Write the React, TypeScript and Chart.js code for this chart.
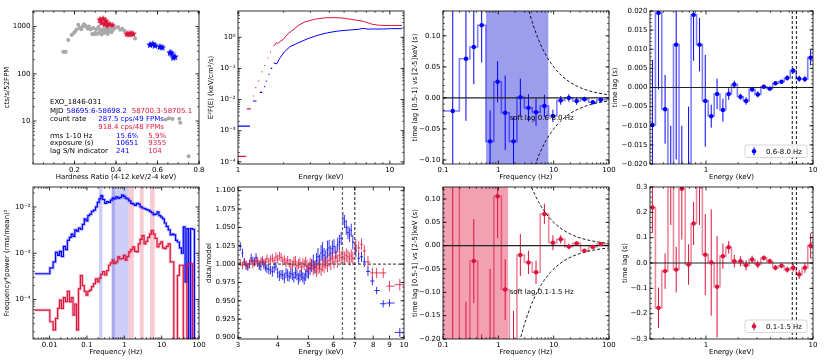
import React, { useEffect, useRef } from "react";
import { Chart, registerables } from "chart.js";

Chart.register(...registerables);

const FONT = "'DejaVu Sans', 'Liberation Sans', sans-serif";
Chart.defaults.font.family = FONT;
Chart.defaults.font.size = 7;
Chart.defaults.color = "#000";

const BLUE = "#0000ff";
const RED = "#dc143c";
const GRAY = "#a9a9a9";
const BLUE_STEP = "rgba(0,0,255,0.5)";
const RED_STEP = "rgba(220,20,60,0.5)";

// ---------------- Panel 1: hardness-intensity ----------------
const hrGrayX = [0.146,0.152,0.158,0.170,0.186,0.195,0.202,0.210,0.218,0.225,0.232,0.240,0.245,0.252,0.260,0.265,0.270,0.278,0.285,0.290,0.295,0.300,0.305,0.310,0.315,0.320,0.325,0.330,0.335,0.340,0.345,0.350,0.355,0.360,0.365,0.370,0.378,0.385,0.395,0.410,0.420,0.430,0.440,0.492,0.640,0.655,0.672,0.705,0.710,0.750];
const hrGrayY = [295,290,292,520,665,720,780,870,1090,950,880,1000,1120,1060,960,900,1010,870,700,930,690,740,880,700,980,760,870,680,820,720,900,760,840,700,800,920,760,850,930,980,860,900,820,560,10.8,11.5,11,11.2,9.2,1.8];
const hrRedX = [0.323,0.330,0.338,0.346,0.351,0.357,0.362,0.370,0.383,0.452,0.462,0.472,0.482];
const hrRedY = [1400,1200,1450,1120,1300,1150,1000,1100,1050,700,690,710,695];
const hrBlueX = [0.564,0.577,0.588,0.612,0.623,0.660,0.668,0.676,0.684];
const hrBlueY = [410,425,395,370,360,280,270,220,228];

const srcName = "EXO_1846-031";
const mjdBlue = "58695.6-58698.2";
const mjdRed = "58700.3-58705.1";
const rateBlue = "287.5 cps/49 FPMs";
const rateRed = "918.4 cps/48 FPMs";
const rmsBlue = "15.6%";
const rmsRed = "5.9%";
const expBlue = "10651";
const expRed = "9355";
const snBlue = "241";
const snRed = "104";

// ---------------- Panel 2: unfolded spectra ----------------
const specBlueLowE = [1.10, 1.29, 1.42, 1.50, 1.535, 1.60, 1.66];
const specBlueLowF = [1.4e-3, 9e-3, 0.017, 0.026, 0.039, 0.065, 0.10];
const specBlueLowW = [0.10, 0.035, 0.025, 0.012, 0.012, 0.015, 0.02];
const specBlueE = [1.72, 1.80, 1.88, 2.02, 2.2, 2.49, 2.89, 3.37, 3.9, 4.55, 5.3, 6.2, 6.5, 6.8, 7.2, 7.6, 9.0, 10.3, 12.0];
const specBlueF = [0.15, 0.14, 0.21, 0.34, 0.5, 0.66, 0.91, 1.17, 1.4, 1.59, 1.7, 1.8, 1.9, 1.92, 1.82, 1.85, 1.85, 1.9, 1.9];
const specRedLowE = [1.065, 1.18, 1.26, 1.31, 1.37, 1.44, 1.50, 1.58, 1.64];
const specRedLowF = [1.5e-4, 5e-3, 0.013, 0.024, 0.039, 0.077, 0.124, 0.22, 0.34];
const specRedLowW = [0.065, 0.037, 0.01, 0.01, 0.01, 0.01, 0.01, 0.01, 0.01];
const specRedE = [1.72, 1.79, 1.84, 1.9, 1.98, 2.14, 2.37, 2.49, 2.75, 3.2, 3.7, 4.35, 5.0, 5.9, 6.8, 7.6, 8.4, 9.3, 10.3, 12.0];
const specRedF = [0.52, 0.68, 0.63, 0.75, 0.85, 1.32, 1.92, 2.4, 3.1, 3.8, 4.2, 4.3, 4.1, 3.6, 3.2, 2.65, 2.45, 2.4, 2.4, 2.4];

// ---------------- Panels 3 & 7: lag-frequency ----------------
const lagFreq = [0.15,0.26,0.36,0.50,0.71,0.97,1.33,1.88,2.5,3.5,4.8,6.8,9.7,13.4,18.8,26,36,51,71];
const lagBlue = [-0.021,0.063,0.082,0.117,-0.070,0.026,-0.024,-0.070,0.001,-0.016,-0.023,-0.013,-0.029,-0.004,0.000,-0.005,-0.002,-0.007,-0.003];
const lagBlueErr = [0.25,0.10,0.06,0.06,0.05,0.033,0.06,0.04,0.03,0.022,0.022,0.018,0.010,0.007,0.006,0.006,0.004,0.003,0.003];
const lagRed = [0.25,-0.30,-0.033,-0.30,-0.25,0.106,-0.094,-0.30,-0.020,-0.036,-0.057,0.068,0.0064,0.0136,-0.002,0.005,-0.011,-0.003,0.0036];
const lagRedErr = [0.50,0.18,0.09,0.11,0.20,0.09,0.065,0.16,0.045,0.025,0.025,0.022,0.016,0.009,0.006,0.004,0.004,0.004,0.003];
const lagLimit = 0.5; // +/- limit curve coefficient (s*Hz)
const softBandBlue = [0.6, 8.0];
const softBandRed = [0.1, 1.5];

// ---------------- Panels 4 & 8: lag-energy ----------------
const lagEn = [0.316,0.360,0.415,0.469,0.527,0.595,0.688,0.766,0.871,0.985,1.12,1.27,1.44,1.63,1.84,2.10,2.37,2.70,3.05,3.47,3.95,4.46,5.08,5.74,6.53,7.43,8.40,9.50];
const enLagBlue = [-0.0098,0.0195,-0.0057,-0.030,0.0112,-0.030,-0.025,0.0190,0.0112,-0.0035,-0.0075,-0.0017,-0.0059,-0.0017,0.0008,-0.0024,-0.0035,-0.0005,-0.0018,0.0002,-0.0003,0.0011,0.0015,0.0025,0.0044,0.0023,0.0022,0.0078];
const enLagBlueErr = [0.017,0.020,0.009,0.020,0.030,0.020,0.020,0.012,0.007,0.012,0.003,0.004,0.003,0.0015,0.001,0.0008,0.001,0.0007,0.0008,0.0005,0.0005,0.0005,0.0005,0.0007,0.0007,0.0008,0.0008,0.002];
const enLagRed = [0.219,-0.177,-0.032,0.35,-0.026,0.293,-0.006,0.156,0.35,0.033,0.002,-0.094,0.027,0.062,0.007,0.007,-0.009,0.014,-0.006,0.020,0.007,-0.019,-0.011,-0.026,-0.019,-0.045,-0.019,0.068];
const enLagRedErr = [0.10,0.08,0.07,0.20,0.09,0.20,0.08,0.085,0.20,0.16,0.21,0.20,0.05,0.025,0.025,0.02,0.02,0.015,0.015,0.01,0.01,0.01,0.01,0.012,0.015,0.018,0.02,0.05];
const lineEnergies = [6.4, 7.0];

// ---------------- Panel 5: power spectra ----------------
const psdFreq = [0.0055,0.009,0.0115,0.0135,0.0155,0.0175,0.0195,0.022,0.025,0.028,0.032,0.036,0.040,0.045,0.050,0.056,0.063,0.071,0.080,0.090,0.10,0.112,0.125,0.14,0.16,0.18,0.20,0.224,0.25,0.28,0.32,0.36,0.40,0.45,0.50,0.56,0.63,0.71,0.80,0.90,1.0,1.12,1.25,1.4,1.6,1.8,2.0,2.24,2.5,2.8,3.2,3.6,4.0,4.5,5.0,5.6,6.3,7.1,8.0,9.0,10,11.2,12.5,14,16,18,20,22.4,25,28,32,36,40,45,50,56,63,71,80];
const psdBlue = [3.6e-4,3.6e-4,4.8e-4,6.5e-4,1.05e-3,9e-4,1.1e-3,8.5e-4,1.4e-3,1.2e-3,1.9e-3,2.2e-3,2.6e-3,2.3e-3,3.2e-3,3.0e-3,3.5e-3,3.3e-3,4.2e-3,5.5e-3,5.0e-3,6.5e-3,7.0e-3,8.0e-3,8.5e-3,1.0e-2,1.25e-2,1.5e-2,1.75e-2,1.45e-2,1.2e-2,1.3e-2,1.25e-2,1.4e-2,1.55e-2,1.5e-2,1.65e-2,1.55e-2,1.6e-2,1.8e-2,1.7e-2,1.55e-2,1.5e-2,1.35e-2,1.2e-2,1.15e-2,1.08e-2,1.2e-2,1.15e-2,1.0e-2,9.5e-3,9.2e-3,8.8e-3,8.5e-3,8.0e-3,7.5e-3,6.8e-3,7.0e-3,7.8e-3,6.5e-3,6.0e-3,5.5e-3,4.5e-3,3.8e-3,3.2e-3,2.5e-3,2.6e-3,2.5e-3,1.9e-3,1.75e-3,1.3e-3,1.0e-3,3.7e-3,2.4e-4,3.4e-3,1e-5,3.4e-3,3.3e-3,1e-5];
const psdRed = [5.9e-5,5.9e-5,3.3e-5,2.2e-5,3.9e-5,6.4e-5,9.7e-5,6.4e-5,1.1e-4,9e-5,1.5e-4,8.9e-5,1.1e-4,4.6e-5,8e-5,2.2e-5,1.7e-4,3.3e-4,2.0e-4,1.5e-4,1.24e-4,1.5e-4,1.6e-4,1.9e-4,2.2e-4,2.8e-4,2.4e-4,2.9e-4,3.5e-4,4.0e-4,3.4e-4,4.2e-4,5.5e-4,6.2e-4,7.1e-4,6.0e-4,6.5e-4,8.3e-4,7.5e-4,7.7e-4,9.0e-4,7.1e-4,8.5e-4,1.07e-3,1.2e-3,1.37e-3,1.1e-3,1.07e-3,1.6e-3,2.0e-3,2.4e-3,1.6e-3,1.8e-3,2.2e-3,2.6e-3,3.1e-3,2.6e-3,2.1e-3,1.37e-3,1.6e-3,1.76e-3,1.3e-3,1.26e-3,1.4e-3,1.6e-3,6.5e-4,6.5e-4,1e-5,1e-5,3.3e-4,5.5e-4,5.5e-4,1e-5,1e-5,5.5e-4,6.0e-4,6.0e-4,1e-5,1e-5];
const psdBandsBlue = [[0.21, 0.26], [0.46, 1.3], [0.46, 0.56]];
const psdBandsRed = [[1.3, 1.8], [2.6, 3.3], [4.9, 6.5]];

// ---------------- Panel 6: data/model ratio ----------------
const ratioE = [3.05,3.10,3.14,3.18,3.22,3.26,3.30,3.34,3.38,3.42,3.46,3.50,3.54,3.58,3.62,3.66,3.70,3.75,3.80,3.85,3.90,3.95,4.00,4.05,4.10,4.15,4.20,4.25,4.30,4.35,4.40,4.45,4.50,4.55,4.60,4.65,4.70,4.75,4.80,4.85,4.90,4.95,5.00,5.06,5.12,5.18,5.24,5.30,5.36,5.42,5.48,5.54,5.60,5.67,5.74,5.81,5.88,5.95,6.02,6.10,6.18,6.26,6.34,6.42,6.50,6.58,6.66,6.74,6.82,6.90,7.05,7.20,7.35,7.50,7.70,7.95,8.20,8.60,9.00,9.70];
const ratioBlue = [1.024,1.015,1.003,0.998,0.996,1.000,1.008,1.005,1.003,1.009,1.001,0.998,0.997,1.003,0.999,0.996,0.994,0.993,0.992,0.990,0.995,0.997,0.988,0.984,0.986,0.985,0.981,0.988,0.985,0.983,0.987,0.986,0.982,0.988,0.985,0.980,0.984,0.986,0.982,0.980,0.985,0.990,0.988,0.994,0.998,1.003,0.996,1.005,1.010,1.003,1.015,1.018,1.012,1.008,1.020,1.022,1.015,1.021,1.024,1.016,1.026,1.030,1.035,1.062,1.058,1.050,1.043,1.040,1.046,1.030,1.018,1.008,1.010,1.003,0.990,0.977,0.964,0.946,0.947,0.907];
const ratioBlueErr = [0.006,0.006,0.005,0.006,0.005,0.006,0.006,0.005,0.006,0.006,0.005,0.006,0.006,0.005,0.006,0.006,0.006,0.007,0.006,0.007,0.007,0.006,0.007,0.007,0.006,0.007,0.007,0.007,0.008,0.007,0.007,0.008,0.007,0.008,0.007,0.008,0.008,0.008,0.007,0.008,0.008,0.009,0.008,0.009,0.009,0.010,0.009,0.010,0.012,0.010,0.011,0.012,0.010,0.011,0.012,0.011,0.010,0.011,0.010,0.009,0.010,0.010,0.009,0.009,0.009,0.010,0.009,0.010,0.009,0.010,0.008,0.008,0.007,0.007,0.006,0.006,0.005,0.005,0.005,0.006];
const ratioRed = [1.002,0.998,1.003,1.000,0.997,1.001,1.004,0.999,1.002,1.003,1.005,1.000,1.004,1.006,1.002,1.003,1.007,1.004,1.006,1.008,1.005,1.010,1.007,1.011,1.009,1.004,1.006,1.002,1.005,1.001,1.000,0.999,1.003,1.004,0.998,1.000,1.002,0.996,1.001,0.999,1.003,0.998,0.995,1.000,0.999,0.993,0.996,0.991,0.994,0.997,0.993,0.999,0.997,1.002,0.998,1.005,1.001,1.008,1.003,1.010,1.004,1.012,1.009,1.010,1.008,1.012,1.010,1.007,1.011,1.008,1.025,1.022,1.027,1.018,1.003,0.988,0.988,0.988,0.970,0.972];
const ratioRedErr = [0.005,0.005,0.005,0.005,0.005,0.005,0.005,0.005,0.005,0.005,0.005,0.005,0.005,0.005,0.005,0.005,0.006,0.005,0.006,0.006,0.005,0.006,0.006,0.006,0.006,0.006,0.006,0.006,0.006,0.006,0.007,0.006,0.007,0.007,0.006,0.007,0.007,0.007,0.007,0.007,0.007,0.008,0.007,0.008,0.008,0.008,0.008,0.009,0.008,0.009,0.009,0.009,0.009,0.009,0.009,0.009,0.009,0.009,0.009,0.009,0.009,0.009,0.009,0.009,0.009,0.009,0.009,0.009,0.009,0.009,0.009,0.009,0.008,0.008,0.008,0.007,0.007,0.007,0.007,0.008];

// ---------------- helpers ----------------
function logMinor(min: number, max: number): number[] {
  const out: number[] = [];
  for (let e = Math.floor(Math.log10(min)); e <= Math.ceil(Math.log10(max)); e++) {
    for (let m = 2; m <= 9; m++) {
      const v = m * Math.pow(10, e);
      if (v > min && v < max) out.push(v);
    }
  }
  return out;
}
function linMinor(min: number, max: number, step: number): number[] {
  const out: number[] = [];
  for (let k = Math.ceil(min / step - 1e-9); k * step <= max + 1e-9; k++) out.push(k * step);
  return out;
}
function pts(xs: number[], ys: number[]) {
  return xs.map((x, i) => ({ x, y: ys[i] }));
}
function starImage(color: string, size: number) {
  const c = document.createElement("canvas");
  c.width = size; c.height = size;
  const g = c.getContext("2d")!;
  g.fillStyle = color;
  g.beginPath();
  for (let i = 0; i < 10; i++) {
    const r = i % 2 === 0 ? size / 2 : size / 4.6;
    const a = -Math.PI / 2 + (i * Math.PI) / 5;
    g.lineTo(size / 2 + r * Math.cos(a), size / 2 + r * Math.sin(a));
  }
  g.closePath();
  g.fill();
  return c;
}

type AxisSpec = { type: string; min: number; max: number; ticks: number[]; labels: string[]; minor: number[]; title: string };
type Extra = {
  bands?: { from: number; to: number; color: string }[];
  curves?: { k: number; color: string }[];
  hlines?: { v: number; color: string; dash?: number[]; width?: number }[];
  vlines?: { v: number; color: string; dash?: number[]; width?: number }[];
  steps?: { xs: number[]; ys: number[]; lo?: number; hi?: number; color: string; width: number }[];
  errs?: { xs: number[]; ys: number[]; yerr?: number[]; xw?: number[]; autoX?: boolean; color: string; width: number }[];
  texts?: { dx?: number; dy?: number; x?: number; y?: number; text: string; color: string }[];
  legend?: { text: string; color: string };
};

const PAD_T = 6;
const PAD_R = 10;
const AXIS_B = 17;

function axisOptions(a: AxisSpec, horizontal: boolean, size: number) {
  return {
    type: a.type,
    min: a.min,
    max: a.max,
    bounds: "data",
    position: horizontal ? "bottom" : "left",
    grid: { display: false, drawTicks: false },
    border: { display: false },
    ticks: {
      autoSkip: false,
      maxRotation: 0,
      minRotation: 0,
      padding: horizontal ? 2 : 2.5,
      color: "#000",
      font: { family: FONT, size: 7 },
      callback: (_v: any, i: number) => a.labels[i],
    },
    title: { display: true, text: a.title, color: "#000", font: { family: FONT, size: 7 }, padding: 0 },
    afterBuildTicks: (s: any) => {
      s.ticks = a.ticks.map((v) => ({ value: v }));
    },
    afterFit: (s: any) => {
      if (horizontal) s.height = size;
      else s.width = size;
      s.paddingLeft = 0;
      s.paddingRight = 0;
      s.paddingTop = 0;
      s.paddingBottom = 0;
    },
  };
}

function pixEdges(px: number[], lo?: number, hi?: number): number[] {
  const n = px.length;
  const e: number[] = [];
  e[0] = lo !== undefined ? lo : px[0] - (n > 1 ? (px[1] - px[0]) / 2 : 3);
  for (let i = 1; i < n; i++) e[i] = (px[i - 1] + px[i]) / 2;
  e[n] = hi !== undefined ? hi : px[n - 1] + (n > 1 ? (px[n - 1] - px[n - 2]) / 2 : 3);
  return e;
}

function makeExtras(ex: Extra, xa: AxisSpec, ya: AxisSpec) {
  return {
    id: "extras",
    beforeDatasetsDraw(chart: any) {
      const { ctx, chartArea: a } = chart;
      const sx = chart.scales.x;
      const sy = chart.scales.y;
      ctx.save();
      ctx.beginPath();
      ctx.rect(a.left, a.top, a.right - a.left, a.bottom - a.top);
      ctx.clip();
      for (const b of ex.bands || []) {
        const x1 = sx.getPixelForValue(b.from);
        const x2 = sx.getPixelForValue(b.to);
        ctx.fillStyle = b.color;
        ctx.fillRect(x1, a.top, x2 - x1, a.bottom - a.top);
      }
      for (const st of ex.steps || []) {
        const px = st.xs.map((v) => sx.getPixelForValue(v));
        const py = st.ys.map((v) => sy.getPixelForValue(v));
        const e = pixEdges(px, st.lo !== undefined ? sx.getPixelForValue(st.lo) : undefined, st.hi !== undefined ? sx.getPixelForValue(st.hi) : undefined);
        ctx.strokeStyle = st.color;
        ctx.lineWidth = st.width;
        ctx.lineJoin = "miter";
        ctx.beginPath();
        ctx.moveTo(e[0], py[0]);
        for (let i = 0; i < px.length; i++) {
          ctx.lineTo(e[i + 1], py[i]);
          if (i < px.length - 1) ctx.lineTo(e[i + 1], py[i + 1]);
        }
        ctx.stroke();
      }
      for (const er of ex.errs || []) {
        const px = er.xs.map((v) => sx.getPixelForValue(v));
        const e = er.autoX ? pixEdges(px) : null;
        ctx.strokeStyle = er.color;
        ctx.lineWidth = er.width;
        ctx.beginPath();
        er.xs.forEach((xv, i) => {
          const yv = er.ys[i];
          const cy = sy.getPixelForValue(yv);
          if (er.yerr) {
            ctx.moveTo(px[i], sy.getPixelForValue(yv - er.yerr[i]));
            ctx.lineTo(px[i], sy.getPixelForValue(yv + er.yerr[i]));
          }
          if (er.xw) {
            ctx.moveTo(sx.getPixelForValue(xv - er.xw[i]), cy);
            ctx.lineTo(sx.getPixelForValue(xv + er.xw[i]), cy);
          } else if (e) {
            ctx.moveTo(e[i], cy);
            ctx.lineTo(e[i + 1], cy);
          }
        });
        ctx.stroke();
      }
      for (const h of ex.hlines || []) {
        const py = sy.getPixelForValue(h.v);
        ctx.strokeStyle = h.color;
        ctx.lineWidth = h.width || 1;
        ctx.setLineDash(h.dash || []);
        ctx.beginPath();
        ctx.moveTo(a.left, py);
        ctx.lineTo(a.right, py);
        ctx.stroke();
      }
      for (const v of ex.vlines || []) {
        const px = sx.getPixelForValue(v.v);
        ctx.strokeStyle = v.color;
        ctx.lineWidth = v.width || 1;
        ctx.setLineDash(v.dash || []);
        ctx.beginPath();
        ctx.moveTo(px, a.top);
        ctx.lineTo(px, a.bottom);
        ctx.stroke();
      }
      for (const c of ex.curves || []) {
        ctx.strokeStyle = c.color;
        ctx.lineWidth = 0.9;
        ctx.setLineDash([3, 2]);
        ctx.beginPath();
        let first = true;
        for (let p = a.left; p <= a.right; p += 1) {
          const f = sx.getValueForPixel(p);
          const py = Math.max(-5000, Math.min(5000, sy.getPixelForValue(c.k / f)));
          if (first) { ctx.moveTo(p, py); first = false; } else ctx.lineTo(p, py);
        }
        ctx.stroke();
      }
      ctx.setLineDash([]);
      ctx.restore();
    },
    afterDatasetsDraw(chart: any) {
      const { ctx, chartArea: a } = chart;
      const sx = chart.scales.x;
      const sy = chart.scales.y;
      ctx.save();
      ctx.font = `7px ${FONT}`;
      ctx.textBaseline = "middle";
      ctx.textAlign = "left";
      for (const t of ex.texts || []) {
        ctx.fillStyle = t.color;
        if (t.x !== undefined && t.y !== undefined) ctx.fillText(t.text, sx.getPixelForValue(t.x), sy.getPixelForValue(t.y));
        else ctx.fillText(t.text, a.left + (t.dx || 0), a.top + (t.dy || 0));
      }
      if (ex.legend) {
        const tw = ctx.measureText(ex.legend.text).width;
        const bw = tw + 26;
        const bh = 12.5;
        const bx = a.right - 6 - bw;
        const by = a.bottom - 6.5 - bh;
        ctx.fillStyle = "rgba(255,255,255,0.85)";
        ctx.strokeStyle = "#cccccc";
        ctx.lineWidth = 0.8;
        ctx.beginPath();
        (ctx as any).roundRect(bx, by, bw, bh, 2);
        ctx.fill();
        ctx.stroke();
        const mx = bx + 9;
        const my = by + bh / 2;
        ctx.strokeStyle = ex.legend.color;
        ctx.lineWidth = 1;
        ctx.beginPath();
        ctx.moveTo(mx, my - 4);
        ctx.lineTo(mx, my + 4);
        ctx.stroke();
        ctx.fillStyle = ex.legend.color;
        ctx.beginPath();
        ctx.arc(mx, my, 2.2, 0, Math.PI * 2);
        ctx.fill();
        ctx.fillStyle = "#000";
        ctx.fillText(ex.legend.text, bx + 21, my + 0.5);
      }
      // frame
      ctx.strokeStyle = "#000";
      ctx.lineWidth = 0.8;
      ctx.strokeRect(a.left, a.top, a.right - a.left, a.bottom - a.top);
      // inward ticks on all four sides
      const drawX = (vals: number[], len: number) => {
        for (const v of vals) {
          const p = sx.getPixelForValue(v);
          if (p < a.left - 0.5 || p > a.right + 0.5) continue;
          ctx.moveTo(p, a.bottom);
          ctx.lineTo(p, a.bottom - len);
          ctx.moveTo(p, a.top);
          ctx.lineTo(p, a.top + len);
        }
      };
      const drawY = (vals: number[], len: number) => {
        for (const v of vals) {
          const p = sy.getPixelForValue(v);
          if (p < a.top - 0.5 || p > a.bottom + 0.5) continue;
          ctx.moveTo(a.left, p);
          ctx.lineTo(a.left + len, p);
          ctx.moveTo(a.right, p);
          ctx.lineTo(a.right - len, p);
        }
      };
      ctx.beginPath();
      drawX(xa.ticks, 3.5);
      drawY(ya.ticks, 3.5);
      ctx.stroke();
      ctx.lineWidth = 0.6;
      ctx.beginPath();
      drawX(xa.minor, 2);
      drawY(ya.minor, 2);
      ctx.stroke();
      ctx.restore();
    },
  };
}

type PanelDef = {
  left: number; top: number; w: number; h: number; L: number;
  x: AxisSpec; y: AxisSpec;
  datasets: () => any[];
  extra: Extra;
};

function Panel(props: { def: PanelDef }) {
  const ref = useRef<HTMLCanvasElement | null>(null);
  const d = props.def;
  const cw = d.L + d.w + PAD_R;
  const ch = PAD_T + d.h + AXIS_B;
  useEffect(() => {
    const canvas = ref.current;
    if (!canvas) return;
    const chart = new Chart(canvas, {
      type: "scatter",
      data: { datasets: d.datasets() },
      options: {
        responsive: false,
        maintainAspectRatio: false,
        animation: false,
        devicePixelRatio: 1,
        events: [],
        layout: { padding: { top: PAD_T, right: PAD_R, left: 0, bottom: 0 } },
        plugins: { legend: { display: false }, tooltip: { enabled: false } },
        scales: { x: axisOptions(d.x, true, AXIS_B), y: axisOptions(d.y, false, d.L) },
      },
      plugins: [makeExtras(d.extra, d.x, d.y)],
    } as any);
    return () => chart.destroy();
  }, []);
  return (
    <canvas
      ref={ref}
      width={cw}
      height={ch}
      style={{ position: "absolute", left: d.left - d.L, top: d.top - PAD_T, width: cw, height: ch }}
    />
  );
}

const pointDs = (xs: number[], ys: number[], color: string) => ({
  data: pts(xs, ys),
  pointRadius: 2.2,
  pointBackgroundColor: color,
  pointBorderWidth: 0,
  showLine: false,
});

const freqAxisLag = (): Omit<AxisSpec, "title"> & { title: string } => ({
  type: "logarithmic", min: 0.1, max: 100, ticks: [0.1, 1, 10, 100], labels: ["0.1", "1", "10", "100"],
  minor: logMinor(0.1, 100), title: "Frequency (Hz)",
});
const enAxisLag = (): AxisSpec => ({
  type: "logarithmic", min: 0.3, max: 10, ticks: [1, 10], labels: ["1", "10"],
  minor: logMinor(0.3, 10), title: "Energy (keV)",
});

const panels: PanelDef[] = [
  {
    left: 33, top: 11, w: 166, h: 153, L: 30,
    x: { type: "linear", min: 0, max: 0.8, ticks: [0.2, 0.4, 0.6, 0.8], labels: ["0.2", "0.4", "0.6", "0.8"], minor: linMinor(0, 0.8, 0.05), title: "Hardness Ratio (4-12 keV/2-4 keV)" },
    y: { type: "logarithmic", min: 1.23, max: 2140, ticks: [10, 100, 1000], labels: ["10", "100", "1000"], minor: logMinor(1.23, 2140), title: "cts/s/52FPM" },
    datasets: () => [
      { data: pts(hrGrayX, hrGrayY), pointRadius: 2, pointBackgroundColor: GRAY, pointBorderWidth: 0 },
      { data: pts(hrRedX, hrRedY), pointStyle: starImage(RED, 8), pointRadius: 4 },
      { data: pts(hrBlueX, hrBlueY), pointStyle: starImage(BLUE, 8), pointRadius: 4 },
    ],
    extra: {
      texts: [
        { dx: 17, dy: 91.5, text: srcName, color: "#000" },
        { dx: 17, dy: 100, text: "MJD", color: "#000" },
        { dx: 33.5, dy: 100, text: mjdBlue, color: BLUE },
        { dx: 98.7, dy: 100, text: mjdRed, color: RED },
        { dx: 17, dy: 108.3, text: "count rate", color: "#000" },
        { dx: 65.3, dy: 108.3, text: rateBlue, color: BLUE },
        { dx: 65.3, dy: 116.6, text: rateRed, color: RED },
        { dx: 17, dy: 124.7, text: "rms 1-10 Hz", color: "#000" },
        { dx: 83, dy: 124.7, text: rmsBlue, color: BLUE },
        { dx: 115.3, dy: 124.7, text: rmsRed, color: RED },
        { dx: 17, dy: 132.4, text: "exposure (s)", color: "#000" },
        { dx: 83, dy: 132.4, text: expBlue, color: BLUE },
        { dx: 115.3, dy: 132.4, text: expRed, color: RED },
        { dx: 17, dy: 140, text: "lag S/N indicator", color: "#000" },
        { dx: 83, dy: 140, text: snBlue, color: BLUE },
        { dx: 115.3, dy: 140, text: snRed, color: RED },
      ],
    },
  },
  {
    left: 238, top: 11, w: 166, h: 153, L: 31,
    x: { type: "logarithmic", min: 1, max: 12.4, ticks: [1, 10], labels: ["1", "10"], minor: logMinor(1, 12.4), title: "Energy (keV)" },
    y: { type: "logarithmic", min: 8.5e-5, max: 7, ticks: [1e-4, 1e-3, 1e-2, 1e-1, 1], labels: ["10\u207B\u2074", "10\u207B\u00B3", "10\u207B\u00B2", "10\u207B\u00B9", "10\u2070"], minor: logMinor(8.5e-5, 7), title: "E\u00B2F(E) (keV/cm\u00B2/s)" },
    datasets: () => [
      { data: pts(specRedE, specRedF), showLine: true, borderColor: RED, borderWidth: 1, pointRadius: 0 },
      { data: pts(specBlueE, specBlueF), showLine: true, borderColor: BLUE, borderWidth: 1, pointRadius: 0 },
    ],
    extra: {
      errs: [
        { xs: specRedLowE, ys: specRedLowF, xw: specRedLowW, color: RED, width: 1.2 },
        { xs: specBlueLowE, ys: specBlueLowF, xw: specBlueLowW, color: BLUE, width: 1.2 },
      ],
    },
  },
  {
    left: 443, top: 11, w: 166, h: 153, L: 32,
    x: freqAxisLag(),
    y: { type: "linear", min: -0.1065, max: 0.14, ticks: [-0.1, -0.05, 0, 0.05, 0.1], labels: ["\u22120.10", "\u22120.05", "0.00", "0.05", "0.10"], minor: linMinor(-0.1065, 0.14, 0.01), title: "time lag [0.5-1] vs [2-5]keV (s)" },
    datasets: () => [pointDs(lagFreq, lagBlue, BLUE)],
    extra: {
      bands: [{ from: softBandBlue[0], to: softBandBlue[1], color: "rgba(60,60,220,0.5)" }],
      hlines: [{ v: 0, color: "#222", width: 1.1 }],
      curves: [{ k: lagLimit, color: "#000" }, { k: -lagLimit, color: "#000" }],
      steps: [{ xs: lagFreq, ys: lagBlue, lo: 0.1, hi: 100, color: BLUE_STEP, width: 1.6 }],
      errs: [{ xs: lagFreq, ys: lagBlue, yerr: lagBlueErr, color: BLUE, width: 1 }],
      texts: [{ x: 1.6, y: -0.032, text: "soft lag 0.6-8.0 Hz", color: "#000" }],
    },
  },
  {
    left: 650, top: 11, w: 163, h: 153, L: 39,
    x: enAxisLag(),
    y: { type: "linear", min: -0.02, max: 0.02, ticks: [-0.02, -0.015, -0.01, -0.005, 0, 0.005, 0.01, 0.015, 0.02], labels: ["\u22120.020", "\u22120.015", "\u22120.010", "\u22120.005", "0.000", "0.005", "0.010", "0.015", "0.020"], minor: linMinor(-0.02, 0.02, 0.001), title: "time lag (s)" },
    datasets: () => [pointDs(lagEn, enLagBlue, BLUE)],
    extra: {
      hlines: [{ v: 0, color: "#222", width: 1.1 }],
      vlines: [{ v: lineEnergies[0], color: "#000", dash: [3, 2], width: 0.9 }, { v: lineEnergies[1], color: "#000", dash: [3, 2], width: 0.9 }],
      steps: [{ xs: lagEn, ys: enLagBlue, lo: 0.3, hi: 10, color: BLUE_STEP, width: 1.6 }],
      errs: [{ xs: lagEn, ys: enLagBlue, yerr: enLagBlueErr, color: BLUE, width: 1 }],
      legend: { text: "0.6-8.0 Hz", color: BLUE },
    },
  },
  {
    left: 33, top: 187, w: 166, h: 152, L: 30,
    x: { type: "logarithmic", min: 0.0036, max: 100, ticks: [0.01, 0.1, 1, 10, 100], labels: ["0.01", "0.1", "1", "10", "100"], minor: logMinor(0.0036, 100), title: "Frequency (Hz)" },
    y: { type: "logarithmic", min: 1.4e-5, max: 0.027, ticks: [1e-4, 1e-3, 1e-2], labels: ["10\u207B\u2074", "10\u207B\u00B3", "10\u207B\u00B2"], minor: logMinor(1.4e-5, 0.027), title: "Frequency*power (rms/mean)\u00B2" },
    datasets: () => [],
    extra: {
      bands: [
        ...psdBandsBlue.map((b) => ({ from: b[0], to: b[1], color: "rgba(60,60,220,0.25)" })),
        ...psdBandsRed.map((b) => ({ from: b[0], to: b[1], color: "rgba(220,20,60,0.22)" })),
      ],
      steps: [
        { xs: psdFreq, ys: psdBlue, lo: 0.004, color: "rgba(0,0,255,0.25)", width: 3 },
        { xs: psdFreq, ys: psdRed, lo: 0.004, color: "rgba(220,20,60,0.25)", width: 3 },
        { xs: psdFreq, ys: psdBlue, lo: 0.004, color: BLUE, width: 1.2 },
        { xs: psdFreq, ys: psdRed, lo: 0.004, color: RED, width: 1.2 },
      ],
    },
  },
  {
    left: 238, top: 187, w: 166, h: 152, L: 33,
    x: { type: "logarithmic", min: 3, max: 10, ticks: [3, 4, 5, 6, 7, 8, 9, 10], labels: ["3", "4", "5", "6", "7", "8", "9", "10"], minor: [], title: "Energy (keV)" },
    y: { type: "linear", min: 0.898, max: 1.105, ticks: [0.9, 0.925, 0.95, 0.975, 1.0, 1.025, 1.05, 1.075, 1.1], labels: ["0.900", "0.925", "0.950", "0.975", "1.000", "1.025", "1.050", "1.075", "1.100"], minor: linMinor(0.898, 1.105, 0.00625), title: "data/model" },
    datasets: () => [],
    extra: {
      errs: [
        { xs: ratioE, ys: ratioBlue, yerr: ratioBlueErr, autoX: true, color: "rgba(0,0,230,0.8)", width: 1 },
        { xs: ratioE, ys: ratioRed, yerr: ratioRedErr, autoX: true, color: "rgba(220,20,60,0.8)", width: 1 },
      ],
      hlines: [{ v: 1.0, color: "#555", dash: [3, 2], width: 1.2 }],
      vlines: [{ v: lineEnergies[0], color: "#666", dash: [3, 2], width: 1.2 }, { v: lineEnergies[1], color: "#000", dash: [3, 2], width: 0.9 }],
    },
  },
  {
    left: 443, top: 187, w: 166, h: 152, L: 32,
    x: freqAxisLag(),
    y: { type: "linear", min: -0.2, max: 0.1257, ticks: [-0.2, -0.15, -0.1, -0.05, 0, 0.05, 0.1], labels: ["\u22120.20", "\u22120.15", "\u22120.10", "\u22120.05", "0.00", "0.05", "0.10"], minor: linMinor(-0.2, 0.1257, 0.01), title: "time lag [0.5-1] vs [2-5]keV (s)" },
    datasets: () => [pointDs(lagFreq, lagRed, RED)],
    extra: {
      bands: [{ from: softBandRed[0], to: softBandRed[1], color: "rgba(220,20,60,0.4)" }],
      hlines: [{ v: 0, color: "#222", width: 1.1 }],
      curves: [{ k: lagLimit, color: "#000" }, { k: -lagLimit, color: "#000" }],
      steps: [{ xs: lagFreq, ys: lagRed, lo: 0.1, hi: 100, color: RED_STEP, width: 1.6 }],
      errs: [{ xs: lagFreq, ys: lagRed, yerr: lagRedErr, color: RED, width: 1 }],
      texts: [{ x: 1.6, y: -0.1, text: "soft lag 0.1-1.5 Hz", color: "#000" }],
    },
  },
  {
    left: 650, top: 187, w: 163, h: 152, L: 29,
    x: enAxisLag(),
    y: { type: "linear", min: -0.3, max: 0.3, ticks: [-0.3, -0.2, -0.1, 0, 0.1, 0.2, 0.3], labels: ["\u22120.3", "\u22120.2", "\u22120.1", "0.0", "0.1", "0.2", "0.3"], minor: linMinor(-0.3, 0.3, 0.02), title: "time lag (s)" },
    datasets: () => [pointDs(lagEn, enLagRed, RED)],
    extra: {
      hlines: [{ v: 0, color: "#222", width: 1.1 }],
      vlines: [{ v: lineEnergies[0], color: "#000", dash: [3, 2], width: 0.9 }, { v: lineEnergies[1], color: "#000", dash: [3, 2], width: 0.9 }],
      steps: [{ xs: lagEn, ys: enLagRed, lo: 0.3, hi: 10, color: RED_STEP, width: 1.6 }],
      errs: [{ xs: lagEn, ys: enLagRed, yerr: enLagRedErr, color: RED, width: 1 }],
      legend: { text: "0.1-1.5 Hz", color: RED },
    },
  },
];

export default function App() {
  return (
    <div style={{ position: "fixed", left: 0, top: 0, width: 830, height: 361, background: "#fff", overflow: "hidden" }}>
      {panels.map((p, i) => (
        <Panel key={i} def={p} />
      ))}
    </div>
  );
}
